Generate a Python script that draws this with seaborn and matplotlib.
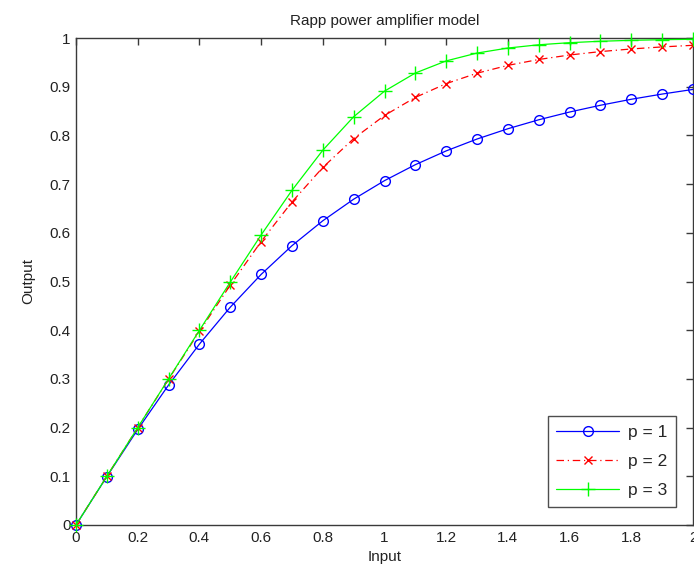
import numpy as np
import pandas as pd
import matplotlib
matplotlib.use("Agg")
import matplotlib.pyplot as plt
import seaborn as sns

# input amplitude samples
x_input = [0.0, 0.1, 0.2, 0.3, 0.4, 0.5, 0.6, 0.7, 0.8, 0.9, 1.0,
           1.1, 1.2, 1.3, 1.4, 1.5, 1.6, 1.7, 1.8, 1.9, 2.0]

# output for each smoothness factor p
out_p1 = [0.0, 0.0995, 0.1961, 0.2874, 0.3714, 0.4472, 0.5145, 0.5735, 0.6247, 0.6690, 0.7071,
          0.7399, 0.7682, 0.7926, 0.8137, 0.8321, 0.8480, 0.8619, 0.8742, 0.8849, 0.8944]
out_p2 = [0.0, 0.1000, 0.1999, 0.2994, 0.3975, 0.4925, 0.5820, 0.6633, 0.7342, 0.7934, 0.8409,
          0.8780, 0.9063, 0.9277, 0.9438, 0.9559, 0.9651, 0.9721, 0.9775, 0.9817, 0.9850]
out_p3 = [0.0, 0.1000, 0.2000, 0.3000, 0.3997, 0.4987, 0.5955, 0.6872, 0.7696, 0.8383, 0.8909,
          0.9281, 0.9530, 0.9691, 0.9794, 0.9861, 0.9904, 0.9933, 0.9952, 0.9965, 0.9974]

labels = ["p = 1", "p = 2", "p = 3"]
xticks = [0, 0.2, 0.4, 0.6, 0.8, 1, 1.2, 1.4, 1.6, 1.8, 2]
xtick_labels = ["0", "0.2", "0.4", "0.6", "0.8", "1", "1.2", "1.4", "1.6", "1.8", "2"]
yticks = [0, 0.1, 0.2, 0.3, 0.4, 0.5, 0.6, 0.7, 0.8, 0.9, 1]
ytick_labels = ["0", "0.1", "0.2", "0.3", "0.4", "0.5", "0.6", "0.7", "0.8", "0.9", "1"]

df = pd.DataFrame({
    "Input": x_input * 3,
    "Output": out_p1 + out_p2 + out_p3,
    "p": [labels[0]] * len(x_input) + [labels[1]] * len(x_input) + [labels[2]] * len(x_input),
})

sns.set_style("white")
plt.rcParams['font.family'] = ['Liberation Sans', 'DejaVu Sans']

fig = plt.figure(figsize=(6.94, 5.76), dpi=100)
ax = fig.add_axes([76 / 694, 51 / 576, 617 / 694, 487 / 576])

styles = {
    labels[0]: dict(color=(0, 0, 1), marker="o", linestyle="-", markersize=7,
                    markerfacecolor="none", markeredgecolor=(0, 0, 1)),
    labels[1]: dict(color=(1, 0, 0), marker="x", linestyle=(0, (6, 3, 1, 3)), markersize=6,
                    markeredgecolor=(1, 0, 0)),
    labels[2]: dict(color=(0, 1, 0), marker="+", linestyle="-", markersize=9.5,
                    markeredgecolor=(0, 1, 0)),
}

for lab in labels:
    sub = df[df["p"] == lab]
    sns.lineplot(data=sub, x="Input", y="Output", ax=ax, label=lab,
                 linewidth=0.9, markeredgewidth=1.0, clip_on=False, zorder=3,
                 **styles[lab])

ax.set_xlim(0, 2)
ax.set_ylim(0, 1)
ax.set_xticks(xticks)
ax.set_xticklabels(xtick_labels)
ax.set_yticks(yticks)
ax.set_yticklabels(ytick_labels)

axis_col = "#3a3a3a"
for s in ax.spines.values():
    s.set_visible(True)
    s.set_color(axis_col)
    s.set_linewidth(1.0)
ax.tick_params(direction="in", length=5, width=1.0, color=axis_col,
               labelsize=11, labelcolor="#222222", top=True, right=True, pad=4)

ax.set_xlabel("Input", fontsize=11, color="#222222", labelpad=4)
ax.set_ylabel("Output", fontsize=11, color="#222222", labelpad=10)
ax.set_title("Rapp power amplifier model", fontsize=11, color="#222222", pad=9)

leg = ax.legend(loc="lower right", fontsize=12.5, frameon=True, fancybox=False,
                handlelength=3.6, borderaxespad=0.0, labelspacing=0.8,
                borderpad=0.5, handletextpad=0.5,
                bbox_to_anchor=(0.972, 0.037))
leg.get_frame().set_edgecolor("#222222")
leg.get_frame().set_linewidth(1.0)

fig.savefig("out.png", dpi=100)
